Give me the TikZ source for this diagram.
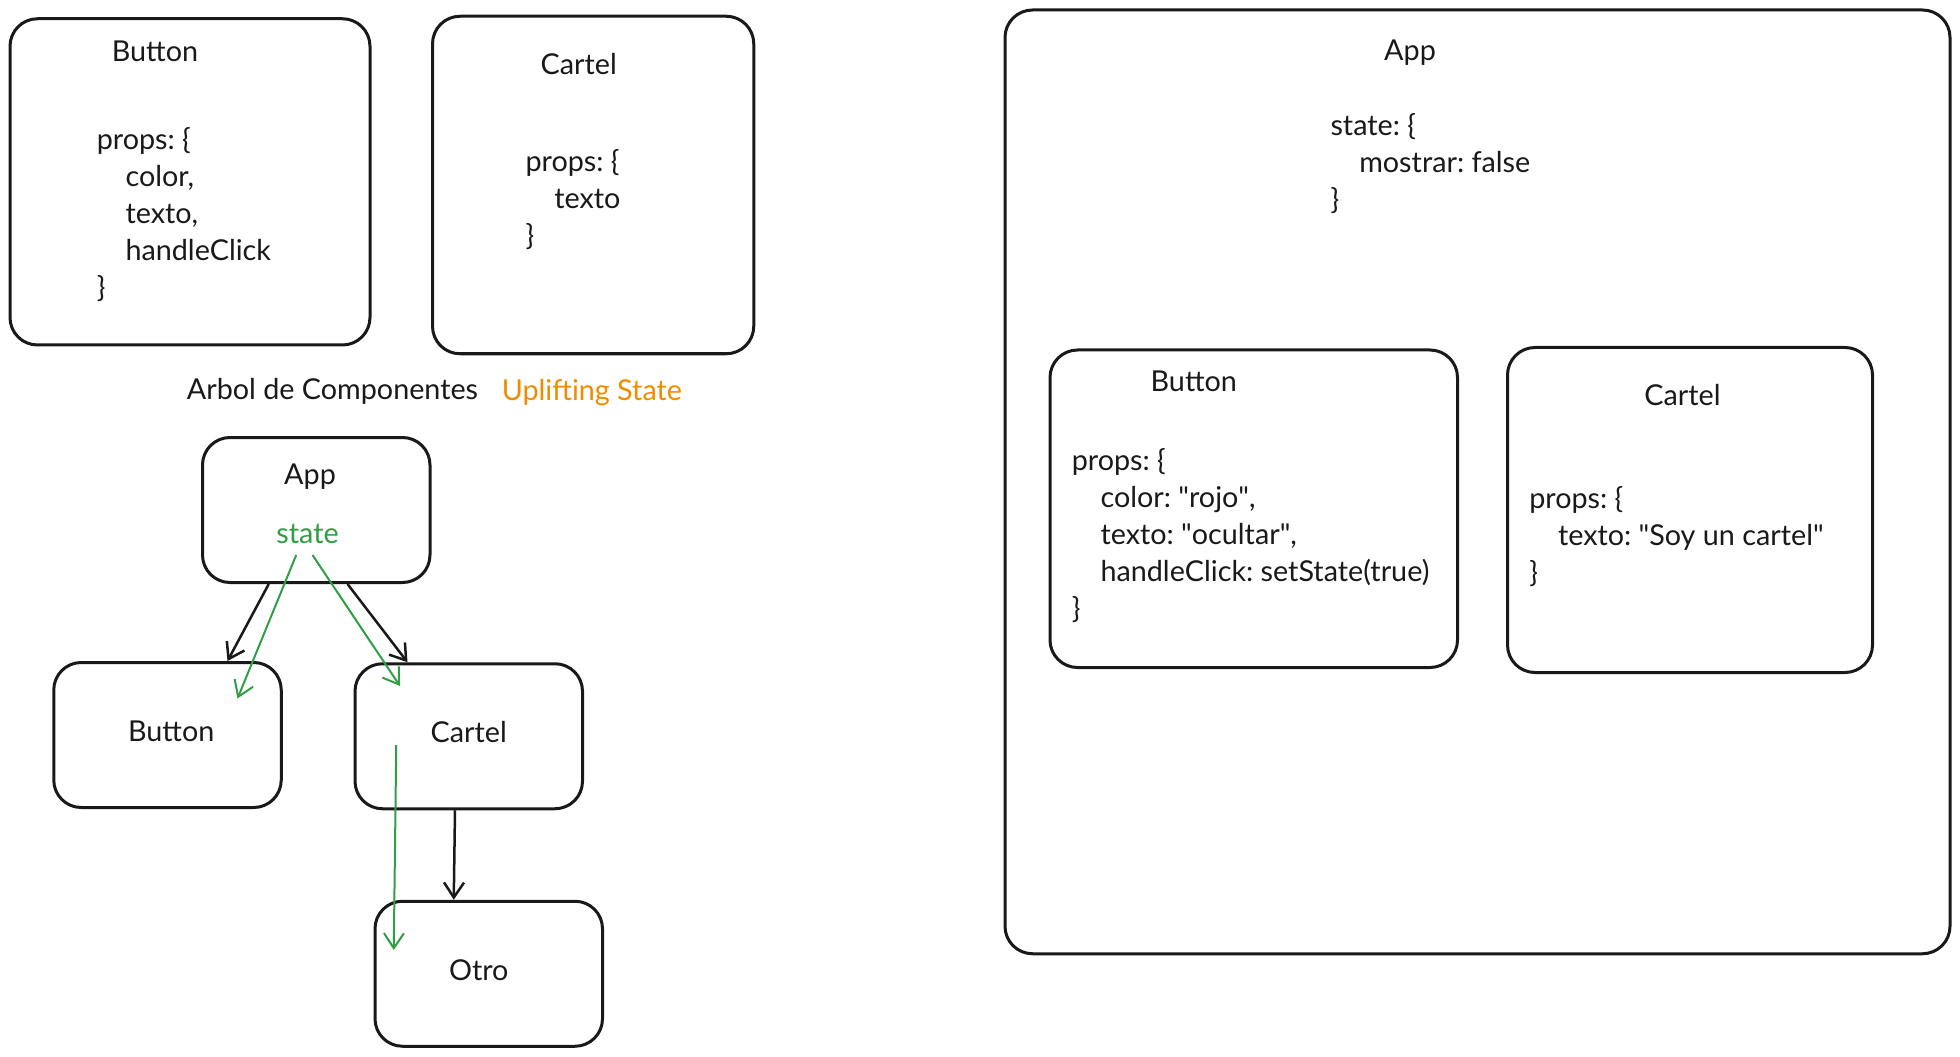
\documentclass[tikz,border=0pt]{standalone}
\usepackage{fontspec}
\setmainfont{Lato}
\frenchspacing
\usetikzlibrary{positioning,arrows.meta}

\definecolor{stategreen}{HTML}{2F9E44}
\definecolor{liftorange}{HTML}{F08C00}
\newcommand{\ind}{\hspace*{11.5pt}}
\newcommand{\qt}[1]{\textquotedbl#1\textquotedbl}

\tikzset{
    comp/.style={draw=black!90, line width=1.2pt, rounded corners=11pt, inner sep=0pt},
    txt/.style={font=\fontsize{11.5}{14.8}\selectfont, inner sep=0pt, text=black!90},
    code/.style={txt, align=left, anchor=west},
    tree/.style={-{Straight Barb[length=6pt,width=8pt]}, line width=1pt, black!90},
    flow/.style={-{Straight Barb[length=6pt,width=8pt]}, line width=0.8pt, stategreen},
}

\begin{document}
\begin{tikzpicture}[x=0.5pt, y=-0.5pt]
    \useasboundingbox (0,0) rectangle (1568,845);

    % components, top left
    \node[comp, minimum width=144pt, minimum height=130.5pt] (button_def) at (152,145.5) {};
    \node[txt] (button_def_title) at (124,41) {Button};
    \node[code] (button_def_props) at (77,171.5)
        {props: \{\\ \ind color,\\ \ind texto,\\ \ind handleClick\\ \}};

    \node[comp, minimum width=128.5pt, minimum height=135pt] (cartel_def) at (474.5,148) {};
    \node[txt] (cartel_def_title) at (463,51) {Cartel};
    \node[code] (cartel_def_props) at (420,160) {props: \{\\ \ind texto\\ \}};

    \node[txt] (arbol) at (266,313) {Arbol de Componentes};
    \node[txt, text=liftorange, anchor=west] (uplift) at (401,314) {Uplifting State};

    % tree
    \node[comp, minimum width=91pt, minimum height=58pt] (app) at (253,408) {};
    \node[txt] (app_title) at (248,381) {App};
    \node[txt, text=stategreen] (state) at (246,427) {state};
    \node[comp, minimum width=91pt, minimum height=58pt] (button) at (134,588) {};
    \node[txt] (button_title) at (137,585) {Button};
    \node[comp, minimum width=91pt, minimum height=58pt] (cartel) at (375,589) {};
    \node[txt] (cartel_title) at (375,586) {Cartel};
    \node[comp, minimum width=91pt, minimum height=58pt] (otro) at (391,779) {};
    \node[txt] (otro_title) at (383,776) {Otro};

    \draw[tree] ([xshift=-19pt]app.south) -- ([xshift=24pt]button.north);
    \draw[tree] ([xshift=12.5pt]app.south) -- ([xshift=-24.5pt]cartel.north);
    \draw[tree] ([xshift=-5.5pt]cartel.south) -- ([xshift=-14pt]otro.north);

    \draw[flow] ([shift={(-9,17)}]state.center) -- ([shift={(56,30)}]button.north);
    \draw[flow] ([shift={(4,17)}]state.center) -- ([shift={(-55,19)}]cartel.north);
    \draw[flow] ([shift={(-58,7)}]cartel.center) -- ([shift={(-76,-19)}]otro.center);

    % app with its children
    \node[comp, minimum width=378pt, minimum height=377.5pt] (app_full) at (1182,385.5) {};
    \node[txt] (app_full_title) at (1128,42) {App};
    \node[code] (app_full_state) at (1064,131) {state: \{\\ \ind mostrar: false\\ \}};

    \node[comp, minimum width=163pt, minimum height=127pt] (button_full) at (1003,407) {};
    \node[txt] (button_full_title) at (955,305) {Button};
    \node[code] (button_full_props) at (857,428.5)
        {props: \{\\ \ind color: \qt{rojo},\\ \ind texto: \qt{ocultar},\\ \ind handleClick: setState(true)\\ \}};

    \node[comp, minimum width=146pt, minimum height=130pt] (cartel_full) at (1352,408) {};
    \node[txt] (cartel_full_title) at (1346,316) {Cartel};
    \node[code] (cartel_full_props) at (1223,429.5)
        {props: \{\\ \ind texto: \qt{Soy un cartel}\\ \}};
\end{tikzpicture}
\end{document}
